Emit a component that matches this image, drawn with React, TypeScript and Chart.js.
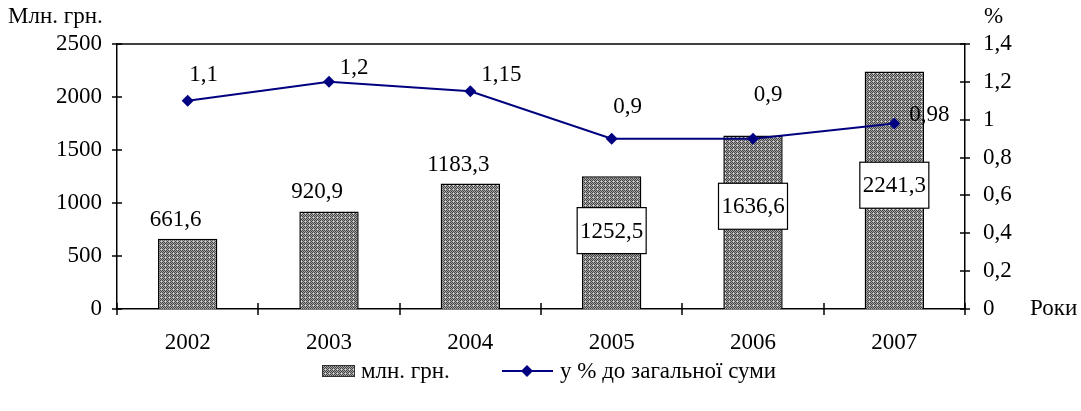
import React, { useEffect, useRef } from 'react';
import { Chart, registerables } from 'chart.js';

Chart.register(...registerables);

const years = ['2002', '2003', '2004', '2005', '2006', '2007'];
const amounts = [661.6, 920.9, 1183.3, 1252.5, 1636.6, 2241.3];
const shares = [1.1, 1.2, 1.15, 0.9, 0.9, 0.98];
const amountLabels = ['661,6', '920,9', '1183,3', '1252,5', '1636,6', '2241,3'];
const shareLabels = ['1,1', '1,2', '1,15', '0,9', '0,9', '0,98'];
const seriesNames = ['млн. грн.', 'у % до загальної суми'];

// label placement styles (offsets in px relative to the mark)
const shareLabelOffsets = [[16, -26], [25, -14], [31, -16], [16, -32], [15, -44], [35, -9]];
const amountLabelBoxed = [false, false, false, true, true, true];
const amountBoxOffsets = [0, 0, 0, -12, -16, -5];

const FONT = '"Liberation Serif", "Times New Roman", serif';
const FS = 23;
const NAVY = '#000080';

function makePattern(): CanvasPattern | string {
  const c = document.createElement('canvas');
  c.width = 4;
  c.height = 4;
  const g = c.getContext('2d');
  if (!g) return '#888';
  for (let y = 0; y < 4; y++) {
    for (let x = 0; x < 4; x++) {
      g.fillStyle = (x + y) % 2 === 0 ? '#444444' : '#a6a6a6';
      g.fillRect(x, y, 1, 1);
    }
  }
  g.fillStyle = '#e8e8e8';
  g.fillRect(1, 1, 1, 1);
  const p = g.createPattern(c, 'repeat');
  return p || '#888';
}

export default function App() {
  const ref = useRef<HTMLCanvasElement | null>(null);

  useEffect(() => {
    const canvas = ref.current;
    if (!canvas) return;
    const pattern = makePattern();

    const decor = {
      id: 'decor',
      afterDatasetsDraw(chart: any) {
        const ctx = chart.ctx as CanvasRenderingContext2D;
        ctx.save();
        ctx.font = `${FS}px ${FONT}`;
        ctx.fillStyle = '#000';
        ctx.textAlign = 'center';
        ctx.textBaseline = 'middle';

        // line labels
        const lineMeta = chart.getDatasetMeta(1);
        lineMeta.data.forEach((pt: any, i: number) => {
          const [dx, dy] = shareLabelOffsets[i];
          ctx.fillText(shareLabels[i], pt.x + dx, pt.y + dy);
        });

        // bar labels
        const barMeta = chart.getDatasetMeta(0);
        barMeta.data.forEach((bar: any, i: number) => {
          if (!amountLabelBoxed[i]) {
            ctx.fillText(amountLabels[i], bar.x - 12, bar.y - 19);
          } else {
            const cy = (bar.y + bar.base) / 2 + amountBoxOffsets[i];
            const w = 69;
            const h = 46;
            ctx.fillStyle = '#fff';
            ctx.fillRect(bar.x - w / 2, cy - h / 2, w, h);
            ctx.strokeStyle = '#000';
            ctx.lineWidth = 1.2;
            ctx.strokeRect(bar.x - w / 2, cy - h / 2, w, h);
            ctx.fillStyle = '#000';
            ctx.fillText(amountLabels[i], bar.x, cy + 1);
          }
        });
        ctx.restore();
      },
      afterDraw(chart: any) {
        const ctx = chart.ctx as CanvasRenderingContext2D;
        const x = chart.scales.x;
        const y = chart.scales.y;
        const y1 = chart.scales.y1;
        const ca = chart.chartArea;
        ctx.save();
        ctx.strokeStyle = '#000';
        ctx.lineWidth = 1.5;
        // frame: top line
        ctx.beginPath();
        ctx.moveTo(ca.left, ca.top);
        ctx.lineTo(ca.right, ca.top);
        ctx.stroke();
        // crossing ticks left axis
        y.ticks.forEach((t: any) => {
          const py = Math.round(y.getPixelForValue(t.value));
          ctx.beginPath();
          ctx.moveTo(ca.left - 5, py);
          ctx.lineTo(ca.left + 5, py);
          ctx.stroke();
        });
        y1.ticks.forEach((t: any) => {
          const py = Math.round(y1.getPixelForValue(t.value));
          ctx.beginPath();
          ctx.moveTo(ca.right - 5, py);
          ctx.lineTo(ca.right + 5, py);
          ctx.stroke();
        });
        // x boundaries
        const n = years.length;
        for (let i = 0; i <= n; i++) {
          let px: number;
          if (i === 0) px = ca.left;
          else if (i === n) px = ca.right;
          else px = (x.getPixelForValue(i - 1) + x.getPixelForValue(i)) / 2;
          px = Math.round(px);
          ctx.beginPath();
          ctx.moveTo(px, ca.bottom - 6);
          ctx.lineTo(px, ca.bottom + 6);
          ctx.stroke();
        }

        // titles
        ctx.fillStyle = '#000';
        ctx.font = `${FS}px ${FONT}`;
        ctx.textBaseline = 'middle';
        ctx.textAlign = 'left';
        ctx.fillText('Млн. грн.', 8, 17);
        ctx.fillText('%', 984, 17);
        ctx.fillText('Роки', 1030, ca.bottom);

        // legend
        const ly = 371;
        ctx.fillStyle = pattern as any;
        ctx.fillRect(322, ly - 6, 33, 12);
        ctx.strokeStyle = '#333';
        ctx.lineWidth = 1;
        ctx.strokeRect(322.5, ly - 5.5, 32, 11);
        ctx.fillStyle = '#000';
        ctx.fillText(seriesNames[0], 361, ly + 1);
        ctx.strokeStyle = NAVY;
        ctx.lineWidth = 2;
        ctx.beginPath();
        ctx.moveTo(502, ly);
        ctx.lineTo(553, ly);
        ctx.stroke();
        ctx.fillStyle = NAVY;
        ctx.beginPath();
        ctx.moveTo(527 - 6, ly);
        ctx.lineTo(527, ly - 6);
        ctx.lineTo(527 + 6, ly);
        ctx.lineTo(527, ly + 6);
        ctx.closePath();
        ctx.fill();
        ctx.fillStyle = '#000';
        ctx.fillText(seriesNames[1], 560, ly + 1);
        ctx.restore();
      },
    };

    const chart = new Chart(canvas, {
      type: 'bar',
      data: {
        labels: years,
        datasets: [
          {
            type: 'bar',
            label: seriesNames[0],
            data: amounts,
            backgroundColor: pattern as any,
            borderColor: '#000',
            borderWidth: 1.5,
            barPercentage: 0.42,
            categoryPercentage: 1,
            yAxisID: 'y',
            order: 2,
          },
          {
            type: 'line',
            label: seriesNames[1],
            data: shares,
            borderColor: NAVY,
            backgroundColor: NAVY,
            borderWidth: 2,
            pointStyle: 'rectRot',
            pointRadius: 6,
            pointHoverRadius: 6,
            pointBorderWidth: 0,
            tension: 0,
            yAxisID: 'y1',
            order: 1,
          } as any,
        ],
      },
      options: {
        responsive: false,
        animation: false,
        events: [],
        layout: { padding: { top: 44, left: 0, right: 0, bottom: 0 } },
        plugins: {
          legend: { display: false },
          tooltip: { enabled: false },
          title: { display: false },
        },
        scales: {
          x: {
            grid: { display: false, offset: true, drawTicks: false, tickLength: 0 },
            border: { display: true, color: '#000', width: 1.5 },
            ticks: {
              color: '#000',
              font: { family: FONT, size: FS },
              padding: 20,
              maxRotation: 0,
            },
            afterFit: (s: any) => {
              s.height = 102;
            },
          },
          y: {
            position: 'left',
            min: 0,
            max: 2500,
            grid: { display: false, drawTicks: false, tickLength: 0 },
            border: { display: true, color: '#000', width: 1.5 },
            ticks: {
              stepSize: 500,
              color: '#000',
              font: { family: FONT, size: FS },
              padding: 15,
              callback: (v: any) => String(v),
            },
            afterFit: (s: any) => {
              s.width = 117;
            },
          },
          y1: {
            position: 'right',
            min: 0,
            max: 1.4,
            grid: { display: false, drawTicks: false, tickLength: 0 },
            border: { display: true, color: '#000', width: 1.5 },
            ticks: {
              stepSize: 0.2,
              color: '#000',
              font: { family: FONT, size: FS },
              padding: 18,
              callback: (v: any) => Number(Number(v).toFixed(1)).toString().replace('.', ','),
            },
            afterFit: (s: any) => {
              s.width = 116;
            },
          },
        },
      },
      plugins: [decor],
    });

    return () => {
      chart.destroy();
    };
  }, []);

  return (
    <div style={{ position: 'fixed', left: 0, top: 0, width: 1081, height: 411, background: '#fff' }}>
      <canvas ref={ref} width={1081} height={411} style={{ width: 1081, height: 411, display: 'block' }} />
    </div>
  );
}
